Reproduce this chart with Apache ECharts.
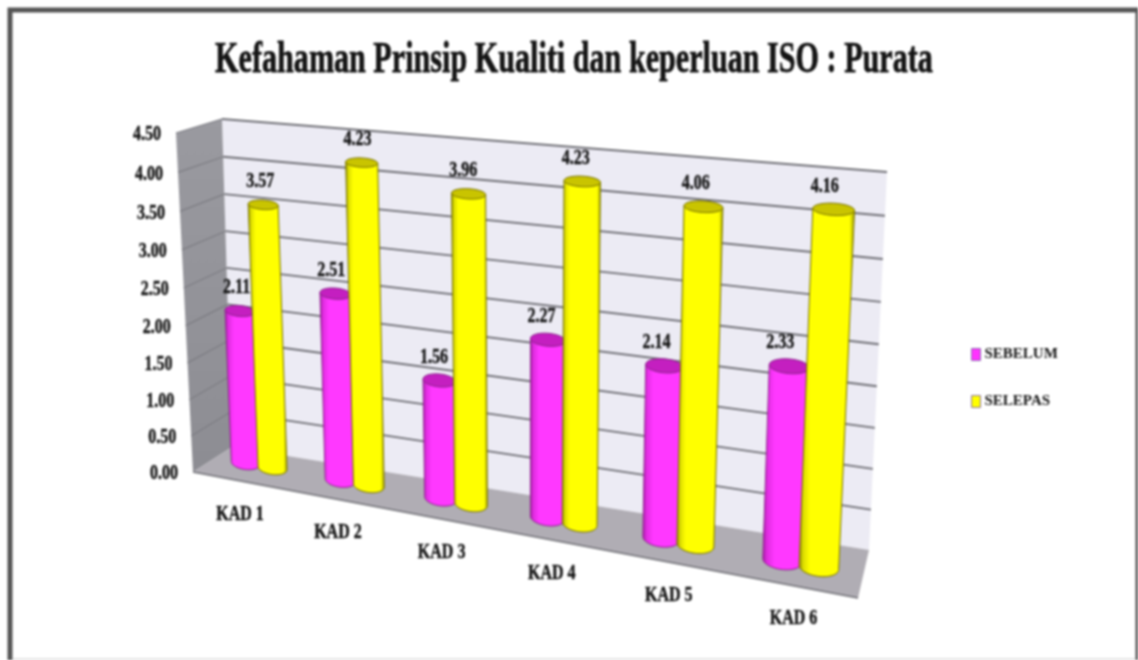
<!DOCTYPE html>
<html><head><meta charset="utf-8">
<style>html,body{margin:0;padding:0;background:#fff;overflow:hidden}#main{width:1138px;height:660px;filter:blur(0.9px)}</style>
<script src="https://cdn.jsdelivr.net/npm/echarts@6/dist/echarts.min.js"></script>
</head><body><div id="main"></div>
<script>
const titleText = 'Kefahaman Prinsip Kualiti dan keperluan ISO : Purata';
const categories = ['KAD 1','KAD 2','KAD 3','KAD 4','KAD 5','KAD 6'];
const seriesNames = ['SEBELUM','SELEPAS'];
const sebelum = [2.11,2.51,1.56,2.27,2.14,2.33];
const selepas = [3.57,4.23,3.96,4.23,4.06,4.16];
const yTicks = [0,0.5,1,1.5,2,2.5,3,3.5,4,4.5];
const yMax = 4.5;
const SERIF = '"Liberation Serif","Times New Roman",serif';
const INK = '#141414';

function quad(p0,p1,p2,p3){
  const dx1=p1[0]-p2[0],dx2=p3[0]-p2[0],dx3=p0[0]-p1[0]+p2[0]-p3[0];
  const dy1=p1[1]-p2[1],dy2=p3[1]-p2[1],dy3=p0[1]-p1[1]+p2[1]-p3[1];
  const den=dx1*dy2-dx2*dy1;
  const g=(dx3*dy2-dx2*dy3)/den,h=(dx1*dy3-dx3*dy1)/den;
  const a=p1[0]-p0[0]+g*p1[0],b=p3[0]-p0[0]+h*p3[0],c=p0[0];
  const d=p1[1]-p0[1]+g*p1[1],e=p3[1]-p0[1]+h*p3[1],f=p0[1];
  return (s,t)=>{const w=g*s+h*t+1;return [(a*s+b*t+c)/w,(d*s+e*t+f)/w];};
}
// perspective of the back wall (unit square: whole axis range)
const wallMap = quad([232,447],[869,550],[887,172],[222,119]);
// perspective of the plane through the bars: first..last category centre, value 0..4
const barMap = quad([259,465.5],[800.5,564],[813.7,222],[248,170.5]);
const frontEdge = t=>{
  const p=t/(1+0.053*(1-t));
  return [193+(176-193)*p, 472+(133-472)*p];
};
const floorFrontR = [858,598];

function norm(params,pt){
  const c=params.coordSys;
  return [(pt[0]-c.x)/c.width,(c.y+c.height-pt[1])/c.height];
}
function toWall(params,pt){const n=norm(params,pt);return wallMap(n[0],n[1]);}
function toBar(params,x,y){
  const n=norm(params,[x,y]);
  return barMap((n[0]*categories.length-0.5)/(categories.length-1), n[1]*yMax/4);
}
function stretched(text,x,y,size,sx,sy){
  return {type:'text',x,y,scaleX:sx,scaleY:sy,style:{text,x:0,y:0,align:'center',verticalAlign:'middle',
    font:'bold '+size+'px '+SERIF,fill:INK,stroke:INK,lineWidth:0.35}};
}
const gradStops = {
  pink:[[0,'#a01ca0'],[.1,'#e02ce0'],[.26,'#ff38ff'],[.9,'#ff38ff'],[1,'#b826b8']],
  yellow:[[0,'#858500'],[.08,'#dcdc00'],[.2,'#ffff00'],[.9,'#ffff00'],[1,'#999900']]
};
const capFill = {pink:'#c41fc0',yellow:'#c9c400'}, edge = {pink:'#8a228a',yellow:'#767000'};

function cylinder(kind,sign){
  return function(params,api){
    const idx=api.value(0),val=api.value(1);
    const band=api.size([1,0])[0];
    const base=api.coord([idx,0]),top=api.coord([idx,val]);
    const off=sign*0.145*band,r=0.155*band;
    const disc=(p,v)=>{
      const C=toBar(params,p[0]+off,p[1]),L=toBar(params,p[0]+off-r,p[1]),R=toBar(params,p[0]+off+r,p[1]);
      const a=(R[0]-L[0])/2,sl=(R[1]-L[1])/(R[0]-L[0])*0.6,b=a*(0.46-0.04*v);
      return {C,at:th=>[C[0]+a*Math.cos(th),C[1]+a*sl*Math.cos(th)+b*Math.sin(th)]};
    };
    const d0=disc(base,0),d1=disc(top,val);
    const body=[],cap=[];
    for(let i=0;i<=24;i++)body.push(d0.at(Math.PI-Math.PI*i/24));
    body.push(d1.at(0),d1.at(Math.PI));
    for(let i=0;i<36;i++)cap.push(d1.at(2*Math.PI*i/36));
    const n=params.dataIndex;
    return {type:'group',children:[
      {type:'polygon',shape:{points:body},style:{
        fill:new echarts.graphic.LinearGradient(0,0,1,0,gradStops[kind].map(s=>({offset:s[0],color:s[1]}))),
        stroke:edge[kind],lineWidth:1}},
      {type:'polygon',shape:{points:cap},style:{fill:capFill[kind],stroke:edge[kind],lineWidth:1}},
      stretched(val.toFixed(2),d1.C[0]-3-1.2*n,d1.C[1]-23,16,1,1.25)
    ]};
  };
}
function renderWalls(params,api){
  const c=params.coordSys;
  const lo=api.coord([0,0])[1],hi=api.coord([0,yMax])[1];
  const x0=c.x,x1=c.x+c.width;
  const BL=toWall(params,[x0,lo]),BR=toWall(params,[x1,lo]),TR=toWall(params,[x1,hi]),TL=toWall(params,[x0,hi]);
  return {type:'group',children:[
    {type:'polygon',shape:{points:[BL,BR,TR,TL]},style:{fill:'#ecebf4'}},
    {type:'polygon',shape:{points:[TL,BL,frontEdge(0),frontEdge(1)]},style:{
      fill:new echarts.graphic.LinearGradient(0,0,0,1,[{offset:0,color:'#9a9aa0'},{offset:1,color:'#8d8d93'}])}},
    {type:'polygon',shape:{points:[BL,BR,floorFrontR,frontEdge(0)]},style:{fill:'#b0adb4'}},
    {type:'line',shape:{x1:frontEdge(0)[0],y1:frontEdge(0)[1],x2:floorFrontR[0],y2:floorFrontR[1]},style:{stroke:'#6f6f75',lineWidth:1.5}}
  ]};
}
function renderTick(params,api){
  const v=api.value(1),c=params.coordSys;
  const y=api.coord([0,v])[1],t=v/yMax;
  const L=toWall(params,[c.x,y]),R=toWall(params,[c.x+c.width,y]),F=frontEdge(t);
  const kids=[stretched(v.toFixed(2),F[0]-29,F[1]+2,16,1,1.25)];
  if(v>0){
    kids.unshift({type:'line',shape:{x1:L[0],y1:L[1],x2:R[0],y2:R[1]},style:{stroke:'#6f6f75',lineWidth:1.8}});
    kids.unshift({type:'line',shape:{x1:L[0],y1:L[1],x2:F[0],y2:F[1]},style:{stroke:'#7d7d83',lineWidth:1.2}});
  }
  return {type:'group',children:kids};
}
function renderCatLabel(params,api){
  const i=api.value(0);
  const p=api.coord([i,0]);
  const B=toBar(params,p[0],p[1]);
  return stretched(categories[i],B[0]-19+2.4*i,B[1]+49+1.2*i,16,1,1.25);
}
const option={
  animation:false,
  backgroundColor:'#fff',
  grid:{left:100,top:100,width:800,height:400},
  xAxis:{type:'category',data:categories,show:false},
  yAxis:{type:'value',min:0,max:yMax,interval:0.5,show:false},
  legend:{orient:'vertical',left:966,top:342,itemWidth:9,itemHeight:12,itemGap:32,icon:'rect',
    data:seriesNames,selectedMode:false,
    textStyle:{fontFamily:SERIF,fontWeight:'bold',fontSize:15,color:INK,padding:[0,0,0,-1]},
    itemStyle:{borderColor:'#8a70b0',borderWidth:1}},
  graphic:[
    {type:'rect',z:0,shape:{x:10,y:10,width:1128,height:680},style:{fill:'#fff',stroke:'#555',lineWidth:5}},
    {type:'line',z:0,shape:{x1:13,y1:659,x2:1135,y2:659},style:{stroke:'#dcdcdc',lineWidth:1.5}},
    {type:'text',x:574,y:60,scaleX:1.005,scaleY:1.5,z:5,style:{text:titleText,x:0,y:0,align:'center',verticalAlign:'middle',
      font:'bold 30px '+SERIF,fill:INK,stroke:INK,lineWidth:0.5}}
  ],
  series:[
    {type:'custom',name:'walls',silent:true,clip:false,z:1,data:[[0,0]],renderItem:renderWalls},
    {type:'custom',name:'ticks',silent:true,clip:false,z:2,data:yTicks.map(v=>[0,v]),renderItem:renderTick},
    {type:'custom',name:seriesNames[0],clip:false,z:3,itemStyle:{color:'#ff33ff'},
      data:sebelum.map((v,i)=>[i,v]),renderItem:cylinder('pink',-1)},
    {type:'custom',name:seriesNames[1],clip:false,z:4,itemStyle:{color:'#ffff00'},
      data:selepas.map((v,i)=>[i,v]),renderItem:cylinder('yellow',1)},
    {type:'custom',name:'categoryLabels',silent:true,clip:false,z:5,data:categories.map((c,i)=>[i,0]),renderItem:renderCatLabel}
  ]
};
echarts.init(document.getElementById('main')).setOption(option);
</script></body></html>
